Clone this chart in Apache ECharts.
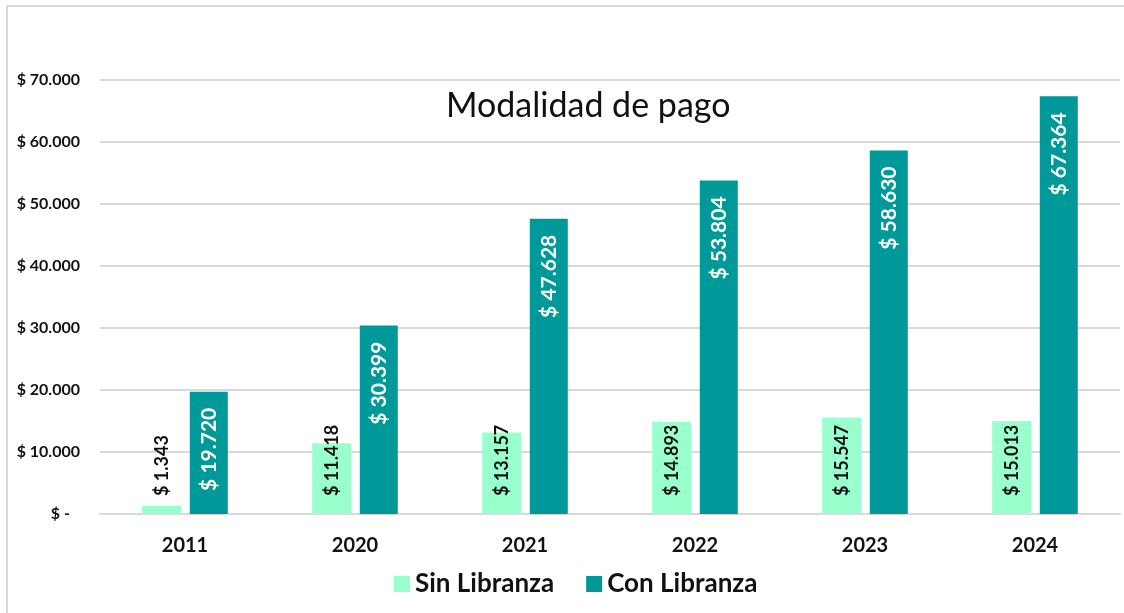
<!DOCTYPE html>
<html lang="es">
<head>
  <meta charset="UTF-8">
  <title>Modalidad de pago</title>
  <script src="https://cdn.jsdelivr.net/npm/echarts@6/dist/echarts.min.js"></script>
  <style>
    html, body { margin: 0; padding: 0; background: #fff; overflow: hidden; }
    #frame {
      position: absolute; left: 6px; top: 5px; width: 1200px; height: 700px;
      border-left: 2px solid #d9d9d9; border-top: 2px solid #d9d9d9;
    }
    #chart { position: absolute; left: 0; top: 0; width: 1124px; height: 613px; }
  </style>
</head>
<body>
  <div id="frame"></div>
  <div id="chart"></div>
  <script type="text/javascript">
    const years = ['2011', '2020', '2021', '2022', '2023', '2024'];
    const sinLibranza = [1343, 11418, 13157, 14893, 15547, 15013];
    const conLibranza = [19720, 30399, 47628, 53804, 58630, 67364];

    const FONT = 'Lato, "Open Sans", sans-serif';

    // 12345 -> "12.345"
    function miles(v) {
      return String(Math.round(v)).replace(/\B(?=(\d{3})+(?!\d))/g, '.');
    }

    const myChart = echarts.init(document.getElementById('chart'));

    const option = {
      backgroundColor: 'transparent',
      textStyle: { fontFamily: FONT },
      title: {
        text: 'Modalidad de pago',
        left: 441,
        top: 84,
        textStyle: { fontFamily: FONT, fontSize: 34, fontWeight: 'normal', color: '#111' },
      },
      legend: {
        left: 389,
        top: 566,
        itemWidth: 16,
        itemHeight: 16,
        itemGap: 32,
        icon: 'rect',
        textStyle: { fontFamily: FONT, fontSize: 26, fontWeight: 'bold', color: '#111' },
      },
      grid: { left: 100, right: 4, top: 80, bottom: 99 },
      xAxis: {
        type: 'category',
        data: years,
        axisTick: { show: false },
        axisLine: { lineStyle: { color: '#d9d9d9', width: 2 } },
        axisLabel: { margin: 22, fontFamily: FONT, fontSize: 20, fontWeight: 'bold', color: '#111' },
      },
      yAxis: {
        type: 'value',
        min: 0,
        max: 70000,
        interval: 10000,
        axisLine: { show: false },
        axisTick: { show: false },
        splitLine: { lineStyle: { color: '#d9d9d9', width: 2 } },
        axisLabel: {
          margin: 20,
          fontFamily: FONT,
          fontSize: 16,
          fontWeight: 'bold',
          color: '#111',
          formatter: v => v === 0 ? '{z|$ -}' : '$ ' + miles(v),
          rich: { z: { fontFamily: FONT, fontSize: 16, fontWeight: 'bold', color: '#111', padding: [0, 10, 0, 0] } },
        },
      },
      series: [
        {
          name: 'Sin Libranza',
          type: 'bar',
          data: sinLibranza,
          barWidth: 39,
          barGap: '22%',
          itemStyle: { color: '#99ffcc' },
          label: {
            show: true,
            position: 'insideBottom',
            distance: 18,
            rotate: 90,
            align: 'left',
            verticalAlign: 'middle',
            fontFamily: FONT,
            fontSize: 18,
            fontWeight: 'bold',
            color: '#111',
            formatter: p => '$ ' + miles(p.value),
          },
        },
        {
          name: 'Con Libranza',
          type: 'bar',
          data: conLibranza,
          barWidth: 38,
          itemStyle: { color: '#009999' },
          label: {
            show: true,
            position: 'insideTop',
            distance: 16,
            rotate: 90,
            align: 'right',
            verticalAlign: 'middle',
            fontFamily: FONT,
            fontSize: 21,
            fontWeight: 'bold',
            color: '#fff',
            formatter: p => '$ ' + miles(p.value),
          },
        },
      ],
    };
    myChart.setOption(option);
  </script>
</body>
</html>
